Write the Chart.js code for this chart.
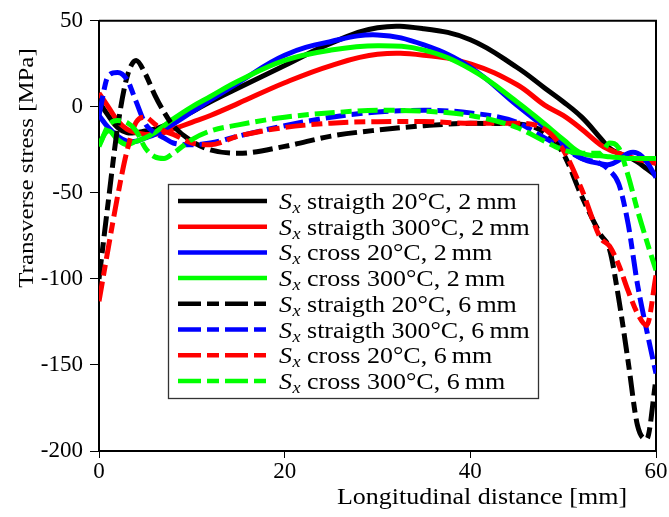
<!DOCTYPE html>
<html>
<head>
<meta charset="utf-8">
<title>Transverse stress</title>
<script src="https://cdn.jsdelivr.net/npm/chart.js@4.4.0/dist/chart.umd.min.js"></script>
<style>
  html, body { margin: 0; padding: 0; background: #fff; }
  #wrap { width: 669px; height: 517px; }
</style>
</head>
<body>
<div id="wrap"><canvas id="stressChart" width="669" height="517"></canvas></div>
<script>
// Longitudinal distance [mm] (shared x grid)
const distance = [0, 1, 2, 3, 4, 5, 6, 7, 8, 10, 12, 15, 20, 25, 30, 35, 40, 45, 48, 50, 52, 54, 55, 56, 57, 58, 59, 60];

// Transverse stress [MPa]
const straigth20_2mm  = [3, -5, -12, -15, -15, -14, -13, -11, -8, -3, 3, 11, 24, 37, 46, 45.4, 39, 23, 11, 3, -6, -18, -24, -27, -29, -32, -36, -40];
const straigth300_2mm = [8, 0, -8, -13, -15, -16, -16, -15, -13, -9, -5, 2, 14, 24, 30.5, 30, 25, 13, 1, -5, -13, -22, -25, -27, -29, -30.5, -31.5, -33];
const cross20_2mm     = [-5, -12, -17, -20, -20, -18, -16, -13, -10, -3, 4, 14, 30, 38, 41.8, 36, 23, 1, -12, -22, -30, -33, -33.5, -31, -27, -27, -32, -41];
const cross300_2mm    = [-22, -14, -19, -22, -20, -18, -15, -11, -7, 0, 6, 15, 27, 33, 35.5, 33, 22, 3, -10, -19, -27, -28.5, -29, -29.5, -30, -30, -30, -30];
const straigth20_6mm  = [-100, -55, -12, 17, 27, 19, 7, -3, -11, -20, -25, -27, -23, -17, -13.5, -11, -9.6, -10, -15, -27, -52, -74, -83, -112, -148, -185, -193, -158];
const straigth300_6mm = [-5, 18, 20, 16, 3, -10, -15, -18, -21, -22, -21, -17, -11, -6, -3, -2, -3.5, -9, -18, -24, -30, -33, -37, -45, -68, -103, -130, -155];
const cross20_6mm     = [-113, -82, -52, -26, -9, -6, -10, -14, -16, -21, -22, -17, -12, -9.5, -8.6, -8.5, -9.6, -9.6, -13, -25, -48, -76, -81, -92, -107, -120, -127, -98];
const cross300_6mm    = [-23, -11, -8, -9, -14, -24, -29, -30, -27, -19, -14, -10.5, -6, -3.5, -2, -2.5, -5, -12, -20, -25, -27, -27, -21, -24, -40, -60, -78, -95];

const seriesData = [straigth20_2mm, straigth300_2mm, cross20_2mm, cross300_2mm,
                    straigth20_6mm, straigth300_6mm, cross20_6mm, cross300_6mm];
const seriesLabels = [
  ' straigth 20\u00b0C, 2\u2009mm',
  ' straigth 300\u00b0C, 2\u2009mm',
  ' cross 20\u00b0C, 2\u2009mm',
  ' cross 300\u00b0C, 2\u2009mm',
  ' straigth 20\u00b0C, 6\u2009mm',
  ' straigth 300\u00b0C, 6\u2009mm',
  ' cross 20\u00b0C, 6\u2009mm',
  ' cross 300\u00b0C, 6\u2009mm'
];
const seriesColors = ['#000000', '#ff0000', '#0000ff', '#00ff00', '#000000', '#0000ff', '#ff0000', '#00ff00'];
const xTicks = [0, 20, 40, 60];
const yTicks = [50, 0, -50, -100, -150, -200];

const FONT = "'Liberation Serif', 'Times New Roman', serif";
const STRETCH = 1.13;           // widen Times a bit towards Computer Modern
const dashPattern = [20, 6, 11, 6];

function wideText(ctx, str, x, y, font, align) {
  ctx.save();
  ctx.font = font;
  const w = ctx.measureText(str).width * STRETCH;
  let x0 = x;
  if (align === 'center') x0 = x - w / 2;
  else if (align === 'right') x0 = x - w;
  ctx.translate(x0, y);
  ctx.scale(STRETCH, 1);
  ctx.textAlign = 'left';
  ctx.fillText(str, 0, 0);
  ctx.restore();
  return w;
}

const paperLook = {
  id: 'paperLook',
  beforeDatasetsDraw(chart) {
    const { ctx, chartArea: a } = chart;
    ctx.save();
    ctx.strokeStyle = '#000';
    ctx.lineWidth = 2;
    ctx.beginPath();
    ctx.moveTo(a.left, a.top);
    ctx.lineTo(a.right, a.top);
    ctx.lineTo(a.right, a.bottom);
    ctx.stroke();
    ctx.restore();
  },
  afterDraw(chart) {
    const { ctx } = chart;
    ctx.save();
    ctx.fillStyle = '#000';
    ctx.textBaseline = 'alphabetic';

    // axis titles
    wideText(ctx, 'Longitudinal distance [mm]', 482, 504, '23px ' + FONT, 'center');
    ctx.save();
    ctx.translate(33, 168);
    ctx.rotate(-Math.PI / 2);
    wideText(ctx, 'Transverse stress [MPa]', 0, 0, '22px ' + FONT, 'center');
    ctx.restore();

    // legend box
    const bx = 168.5, by = 184.5, bw = 370, bh = 214;
    ctx.fillStyle = '#fff';
    ctx.fillRect(bx, by, bw, bh);
    ctx.strokeStyle = '#333';
    ctx.lineWidth = 1.3;
    ctx.strokeRect(bx, by, bw, bh);

    for (let i = 0; i < seriesLabels.length; i++) {
      const cy = 201 + i * 25.7;
      ctx.strokeStyle = seriesColors[i];
      ctx.lineWidth = 4.5;
      ctx.setLineDash(i >= 4 ? [23, 6, 12, 6] : []);
      ctx.beginPath();
      ctx.moveTo(178, cy);
      ctx.lineTo(267, cy);
      ctx.stroke();
      ctx.setLineDash([]);

      ctx.fillStyle = '#000';
      const base = cy + 8;
      let x = 279;
      x += wideText(ctx, 'S', x, base, 'italic 23px ' + FONT, 'left');
      x += wideText(ctx, 'x', x + 0.5, base + 4, 'italic 16px ' + FONT, 'left') + 0.5;
      wideText(ctx, seriesLabels[i], x, base, '23px ' + FONT, 'left');
    }
    ctx.restore();
  }
};

const datasets = seriesData.map((vals, i) => ({
  label: seriesLabels[i],
  data: distance.map((d, k) => ({ x: d, y: vals[k] })),
  borderColor: seriesColors[i],
  borderWidth: 5,
  borderDash: i >= 4 ? dashPattern : [],
  pointRadius: 0,
  // smooth splines for the 2 mm curves, monotone for the sharp 6 mm ones
  cubicInterpolationMode: i >= 4 ? 'monotone' : 'default',
  tension: 0.4,
  fill: false,
  order: seriesData.length - i
}));

const ctx = document.getElementById('stressChart').getContext('2d');
const stressChart = new Chart(ctx, {
  type: 'line',
  data: { datasets: datasets },
  plugins: [paperLook],
  options: {
    responsive: false,
    animation: false,
    devicePixelRatio: 1,
    layout: { padding: { top: 16, right: 13, left: 0, bottom: 0 } },
    plugins: {
      legend: { display: false },
      tooltip: { enabled: false }
    },
    scales: {
      x: {
        type: 'linear',
        min: 0,
        max: 60,
        afterBuildTicks: function (scale) { scale.ticks = xTicks.map(v => ({ value: v })); },
        afterFit: function (scale) { scale.height = 66; },
        grid: { drawOnChartArea: false, color: '#000', tickLength: 7, tickWidth: 1 },
        border: { color: '#000', width: 2 },
        ticks: { color: '#000', font: { family: FONT, size: 23 }, padding: 0, maxRotation: 0 }
      },
      y: {
        type: 'linear',
        min: -200,
        max: 50,
        afterBuildTicks: function (scale) { scale.ticks = yTicks.map(v => ({ value: v })); },
        afterFit: function (scale) { scale.width = 99; },
        grid: { drawOnChartArea: false, color: '#000', tickLength: 9, tickWidth: 1 },
        border: { color: '#000', width: 2 },
        ticks: { color: '#000', font: { family: FONT, size: 23 }, padding: 7 }
      }
    }
  }
});
</script>
</body>
</html>
